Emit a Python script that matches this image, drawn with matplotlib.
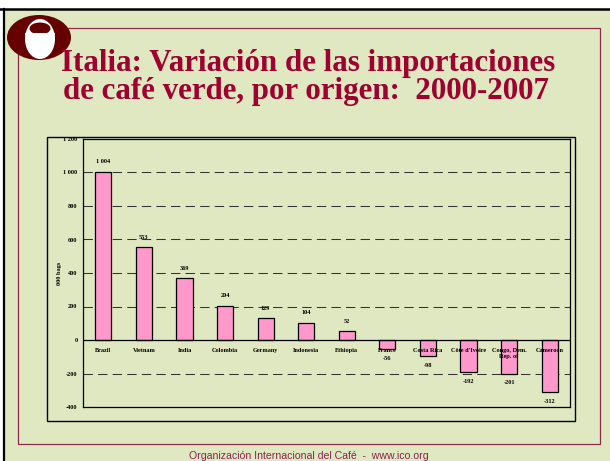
import matplotlib
matplotlib.use("Agg")
import matplotlib.pyplot as plt
from matplotlib.patches import Rectangle, Ellipse

# data
countries = ['Brazil', 'Vietnam', 'India', 'Colombia', 'Germany', 'Indonesia',
             'Ethiopia', 'France', 'Costa Rica', "Côte d'Ivoire",
             'Congo, Dem.\nRep. of', 'Cameroon']
change = [1004, 553, 369, 204, 129, 104, 52, -56, -98, -192, -201, -312]
value_labels = ['1 004', '553', '369', '204', '129', '104', '52',
                '-56', '-98', '-192', '-201', '-312']
yticks = [-400, -200, 0, 200, 400, 600, 800, 1000, 1200]
ytick_labels = ['-400', '-200', '0', '200', '400', '600', '800', '1 000', '1 200']

bg = '#dfe8c1'
maroon = '#660000'
title_col = '#9e0030'
serif = ['Liberation Serif', 'DejaVu Serif']

fig = plt.figure(figsize=(6.1, 4.61), dpi=100)
fig.patch.set_facecolor('white')

# overlay in pixel coordinates for the slide decoration
deco = fig.add_axes([0, 0, 1, 1])
deco.set_xlim(0, 610)
deco.set_ylim(461, 0)
deco.axis('off')

deco.add_patch(Rectangle((3.5, 9.5), 610, 460, facecolor=bg, edgecolor='none'))
deco.plot([0, 610], [9.2, 9.2], color='black', lw=1.8)
deco.plot([3.7, 3.7], [9, 461], color='black', lw=1.6)
deco.add_patch(Rectangle((18, 28), 582, 416, facecolor='none',
                         edgecolor='#8c2a4a', lw=0.9))
# chart box
deco.add_patch(Rectangle((47, 137), 528, 284, facecolor='none',
                         edgecolor='black', lw=1.0))

# logo
deco.add_patch(Ellipse((39, 37.5), 64, 45, facecolor=maroon, edgecolor='none'))
deco.add_patch(Ellipse((40, 39), 30, 40, facecolor='white', edgecolor='none'))
deco.add_patch(Ellipse((40, 28.5), 21, 12, facecolor=maroon, edgecolor='none'))
deco.add_patch(Rectangle((25, 33.5), 30, 2.5, facecolor='white', edgecolor='none'))

deco.text(308, 71, 'Italia: Variación de las importaciones', ha='center',
          va='baseline', fontsize=22.3, fontweight='bold', color=title_col,
          family=serif)
deco.text(306, 99, 'de café verde, por origen:  2000-2007', ha='center',
          va='baseline', fontsize=22.3, fontweight='bold', color=title_col,
          family=serif)
deco.text(309, 459, 'Organización Internacional del Café  -  www.ico.org',
          ha='center', va='baseline', fontsize=7.6, color='#8c2252',
          family=['Liberation Sans', 'DejaVu Sans'])

# chart
ax = fig.add_axes([83 / 610, 1 - 407 / 461, 487 / 610, 268 / 461])
ax.set_facecolor('none')
x = list(range(len(countries)))
ax.bar(x, change, width=0.4, color='#ff99cc', edgecolor='black', linewidth=0.9,
       zorder=3)
ax.set_xlim(-0.5, len(countries) - 0.5)
ax.set_ylim(-400, 1200)
ax.set_yticks(yticks)
ax.set_yticklabels(ytick_labels, fontsize=4.5, fontweight='bold', family=serif)
ax.tick_params(axis='y', length=0, pad=4)
ax.set_xticks([])
for v in [-200, 200, 400, 600, 800, 1000]:
    ax.axhline(v, color='#333333', lw=0.75, linestyle=(0, (9, 5)), zorder=1)
ax.axhline(0, color='black', lw=0.9, zorder=4)
for s in ax.spines.values():
    s.set_linewidth(0.9)
    s.set_color('black')
ax.set_ylabel('000 bags', fontsize=4.5, fontweight='bold', family=serif,
              labelpad=1)

for xi, name, v, lab in zip(x, countries, change, value_labels):
    ax.annotate(name, (xi, 0), xytext=(0, -5.5), textcoords='offset points',
                ha='center', va='top', fontsize=4.5, fontweight='bold',
                family=serif, linespacing=1.4, zorder=5)
    off = 7.2 if v > 0 else -6.5
    ax.annotate(lab, (xi, v), xytext=(0, off), textcoords='offset points',
                ha='center', va='center', fontsize=4.5, fontweight='bold',
                family=serif, zorder=5)

fig.savefig('out.png', dpi=100, facecolor=fig.get_facecolor())
